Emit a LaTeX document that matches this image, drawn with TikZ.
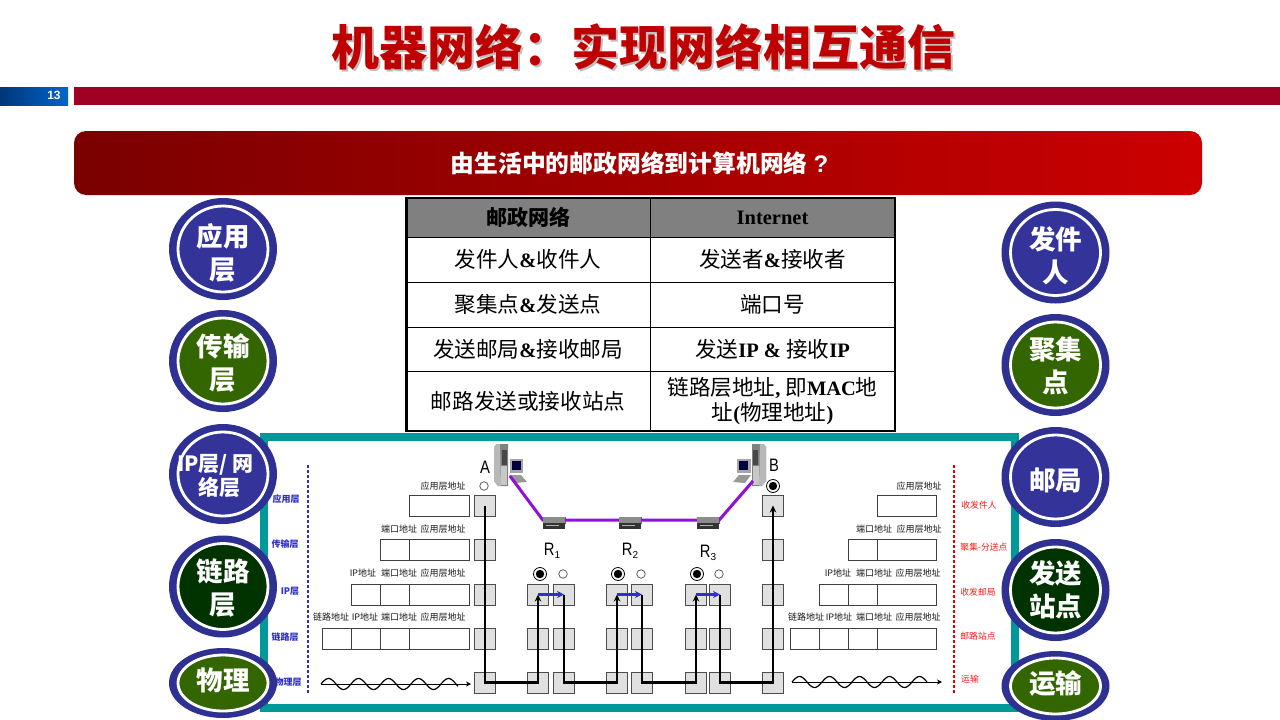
\documentclass[tikz,border=0pt]{standalone}
\usepackage{fontspec}
\usepackage{graphicx}
\usetikzlibrary{arrows.meta,shapes.geometric}
\setmainfont{Liberation Serif}
\newfontfamily\cjk{Noto Sans CJK SC}
\newfontfamily\lsans{Liberation Sans}
\newcommand\pxs[2]{\fontsize{#1}{#2}\selectfont}
\newcommand\lat[1]{{\rmfamily\bfseries\pxs{20.5}{25}#1}}
\newcommand\sbs[1]{{\pxs{10}{10}\raisebox{-3pt}{#1}}}
\newcommand\nar[1]{\scalebox{.82}[1]{#1}}
\definecolor{navy}{HTML}{2E3192}
\definecolor{blu}{HTML}{333399}
\definecolor{grn}{HTML}{336600}
\definecolor{dgrn}{HTML}{003300}
\definecolor{teal2}{HTML}{009999}
\definecolor{purp}{HTML}{9010D8}
\definecolor{stackc}{HTML}{E0E0E0}
\definecolor{lbl}{HTML}{1A1A1A}
\definecolor{hopblue}{HTML}{3030C8}
\definecolor{crimson}{HTML}{A00024}
\tikzset{
  cell/.style={draw=black,line width=1pt,inner sep=0pt,align=center,font=\cjk\pxs{21.6}{25.5}},
  hcell/.style={cell,fill=gray,font=\cjk\bfseries\pxs{21}{25}},
  coin/.style={ellipse,draw=white,line width=2.8pt,inner sep=0pt},
  cointxt/.style={text=white,align=center,inner sep=0pt,font=\cjk\bfseries\pxs{26.5}{33}},
  pkt/.style={draw=black!75,line width=0.8pt,inner sep=0pt,fill=white,minimum height=21pt},
  stackbox/.style={draw=black!70,line width=0.7pt,fill=stackc,inner sep=0pt,minimum width=21.5pt,minimum height=21pt},
  addr/.style={text=lbl,inner sep=0pt,font=\cjk\pxs{9}{9}},
  bluelab/.style={text=hopblue,inner sep=0pt,font=\cjk\bfseries\pxs{9}{9}},
  redlab/.style={text=red!90!white,inner sep=0pt,font=\cjk\pxs{8.8}{9}},
  letter/.style={text=black,inner sep=0pt,font=\lsans\pxs{18}{18}},
  route/.style={line width=2.2pt,black,-{Stealth[length=7pt,width=6.5pt]}},
  hop/.style={line width=2.2pt,hopblue,-{Stealth[length=7pt,width=7pt]}},
  hollow/.style={circle,draw=black!70,line width=0.7pt,fill=white,inner sep=0pt,minimum size=8.5pt},
  bull/.style={circle,draw=black,line width=0.8pt,fill=white,inner sep=0pt,minimum size=13pt},
  routerbox/.style={fill=black!45,draw=black!60,line width=0.4pt,inner sep=0pt,minimum width=22pt,minimum height=6pt},
  layerdots/.style={line width=2.8pt,dash pattern=on 2.6pt off 2.4pt},
}
\newcommand\coinnode[7]{%
  \fill[navy] (#2,#3) ellipse [x radius=54, y radius=#4];
  \node[coin,fill=#5,minimum width=90pt,minimum height=#6] (#1) at (#2,#3) {};
  \node[cointxt] (#1t) at (#2,#3+#7) {\csname cointext#1\endcsname};
}
\newcommand\computer{%
  \fill[black!50] (494,447)--(497,444)--(508,444)--(508,486)--(498,486)--(494,481)--cycle;
  \fill[black!28] (494,447)--(497,444)--(500,444)--(501,486)--(498,486)--(494,481)--cycle;
  \fill[black!22] (501,466) rectangle (507,485);
  \fill[black!72] (502,450) rectangle (507,465);
  \fill[black!35] (509.5,459) rectangle (523,473);
  \fill[black!75!blue] (512,461) rectangle (521,470);
  \fill[black!40] (509,475)--(521,475)--(527,482)--(515,483)--cycle;
}
\newcommand\routerfront[2]{%
  \fill[black!80] (#1-11,#2+3) rectangle (#1+11,#2+9);
  \fill[black!30] (#1-8,#2+4.5) rectangle (#1+5,#2+6);
}
\begin{document}
\begin{tikzpicture}[x=1pt,y=-1pt]
\useasboundingbox (0,0) rectangle (1280,720);
\fill[white] (0,0) rectangle (1280,720);
% title
\node[text=black!45,opacity=.55,inner sep=0pt,font=\cjk\bfseries\pxs{48}{48}] (titleshadow) at (645,49) {机器网络：实现网络相互通信};
\node[text=red!75!black,inner sep=0pt,font=\cjk\bfseries\pxs{48}{48}] (title) at (643.5,47) {机器网络：实现网络相互通信};
% header bars
\definecolor{barl}{HTML}{00367A}\definecolor{barr}{HTML}{0066CC}
\node[left color=barl,right color=barr,minimum width=68pt,minimum height=18pt,inner sep=0pt] (numbar) at (34,96) {};
\node[text=white,inner sep=0pt,font=\lsans\bfseries\pxs{12}{12}] (num) at (54,95) {13};
\node[fill=crimson,minimum width=1206pt,minimum height=18pt,inner sep=0pt] (redbar) at (677,96) {};
% banner
\node[left color=red!48!black,right color=red!80!black,rounded corners=12pt,minimum width=1128pt,minimum height=64pt,inner sep=0pt] (banner) at (638,163) {};
\node[text=white,inner sep=0pt,font=\cjk\bfseries\pxs{23.8}{24}] (bannert) at (639.5,163) {由生活中的邮政网络到计算机网络\hspace{6pt}{\lsans\bfseries\pxs{24}{24}?}};
% table
\node[hcell,minimum width=244pt,minimum height=39pt] (h1) at (528,217.5) {邮政网络};
\node[hcell,minimum width=245pt,minimum height=39pt] (h2) at (772.5,217.5) {\lat{Internet}};
\node[cell,minimum width=244pt,minimum height=45pt] (a1) at (528,259.5) {发件人\lat{\&}收件人};
\node[cell,minimum width=245pt,minimum height=45pt] (b1) at (772.5,259.5) {发送者\lat{\&}接收者};
\node[cell,minimum width=244pt,minimum height=45pt] (a2) at (528,304.5) {聚集点\lat{\&}发送点};
\node[cell,minimum width=245pt,minimum height=45pt] (b2) at (772.5,304.5) {端口号};
\node[cell,minimum width=244pt,minimum height=44pt] (a3) at (528,349) {发送邮局\lat{\&}接收邮局};
\node[cell,minimum width=245pt,minimum height=44pt] (b3) at (772.5,349) {发送\lat{IP \& }接收\lat{IP}};
\node[cell,minimum width=244pt,minimum height=60pt] (a4) at (528,401) {邮路发送或接收站点};
\node[cell,minimum width=245pt,minimum height=60pt] (b4) at (772.5,401) {链路层地址\lat{,} 即\lat{MAC}地\\址\lat{(}物理地址\lat{)}};
\draw[black,line width=2.6pt] (406.5,198) rectangle (895,431);
% teal frame
\draw[teal2,line width=8pt] (264,437) rectangle (1015,708);
% layer dotted lines
\coordinate (bl1) at (308,465); \coordinate (bl2) at (308,694);
\coordinate (rl1) at (954,465); \coordinate (rl2) at (954,694);
\draw[layerdots,hopblue] (bl1) -- (bl2);
\draw[layerdots,red!90!black] (rl1) -- (rl2);
% blue layer labels
\node[bluelab] (lb1) at (286,499) {应用层};
\node[bluelab] (lb2) at (285,544) {传输层};
\node[bluelab] (lb3) at (290,591) {IP层};
\node[bluelab] (lb4) at (285,637) {链路层};
\node[bluelab] (lb5) at (288,682) {物理层};
% red labels
\node[redlab] (lr1) at (979,505) {收发件人};
\node[redlab] (lr2) at (984,547) {聚集-分送点};
\node[redlab] (lr3) at (978,592) {收发邮局};
\node[redlab] (lr4) at (978,636) {邮路站点};
\node[redlab] (lr5) at (970,679) {运输};
% packets
\foreach \nm/\xa/\xb/\y in {pa/409/469/505.5,
  pb2/380/409/549.5,pb1/409/469/549.5,
  pc3/351/380/594.5,pc2/380/409/594.5,pc1/409/469/594.5,
  pd4/322/351/638.5,pd3/351/380/638.5,pd2/380/409/638.5,pd1/409/469/638.5,
  qa/877/936/505.5,
  qb2/848/877/549.5,qb1/877/936/549.5,
  qc3/819/848/594.5,qc2/848/877/594.5,qc1/877/936/594.5,
  qd4/790/819/638.5,qd3/819/848/638.5,qd2/848/877/638.5,qd1/877/936/638.5}{
  \pgfmathsetmacro\w{\xb-\xa}
  \pgfmathsetmacro\c{(\xa+\xb)/2}
  \node[pkt,minimum width=\w pt] (\nm) at (\c,\y) {};
}
\foreach \nm/\x/\y/\t in {
  la1/443/486/应用层地址,
  la2/399/529/端口地址,la3/443/529/应用层地址,
  la4/363/573/IP地址,la5/399/573/端口地址,la6/443/573/应用层地址,
  la7/331/617/链路地址,la8/365/617/IP地址,la9/399/617/端口地址,la10/443/617/应用层地址,
  ra1/919/486/应用层地址,
  ra2/874/529/端口地址,ra3/919/529/应用层地址,
  ra4/838/573/IP地址,ra5/874/573/端口地址,ra6/918/573/应用层地址,
  ra7/806/617/链路地址,ra8/839/617/IP地址,ra9/874/617/端口地址,ra10/918/617/应用层地址}{
  \node[addr] (\nm) at (\x,\y) {\t};
}
% stacks
\foreach \s/\x in {A/485,B/773}{
  \foreach \r/\y in {1/505.5,2/549.5,3/594.5,4/638.5,5/682.5}{
    \node[stackbox] (\s\r) at (\x,\y) {};
  }
}
\foreach \s/\x in {Ra/538,Rb/564,Sa/617,Sb/642,Ta/696,Tb/720}{
  \foreach \r/\y in {3/594.5,4/638.5,5/682.5}{
    \node[stackbox] (\s\r) at (\x,\y) {};
  }
}
% hosts
\computer
\begin{scope}[shift={(1260,0)},xscale=-1]
\computer
\end{scope}
\coordinate (hostA) at (510,476);
\coordinate (hostB) at (753,481);
% routers and purple links
\node[routerbox] (rt1) at (554,520) {};
\node[routerbox] (rt2) at (630,520) {};
\node[routerbox] (rt3) at (708,520) {};
\draw[purp,line width=3pt] (hostA) -- (rt1.west) -- (rt2.center) -- (rt3.east) -- (hostB);
\foreach \n in {rt1,rt2,rt3}{\fill[black!45] (\n.north west) rectangle (\n.south east);}
\routerfront{554}{520}
\routerfront{630}{520}
\routerfront{708}{520}
% letters
\node[letter] (la) at (485,467) {\nar{A}};
\node[letter] (lbb) at (774,465) {\nar{B}};
\node[letter] (lr) at (552,551) {\nar{R}\sbs{1}};
\node[letter] (ls) at (630,551) {\nar{R}\sbs{2}};
\node[letter] (lt) at (708,553) {\nar{R}\sbs{3}};
% state circles
\node[hollow] (cA) at (484,486) {};
\node[bull] (cB) at (773,486) {};
\node[bull] (c1) at (540,574) {};
\node[hollow] (c2) at (563,574) {};
\node[bull] (c3) at (618,574) {};
\node[hollow] (c4) at (641,574) {};
\node[bull] (c5) at (697,574) {};
\node[hollow] (c6) at (719,574) {};
\foreach \n in {cB,c1,c3,c5}{\fill[black] (\n.center) circle (4.2);}
% routes
\draw[route] (A1.center) -- (A5.center) -- (Ra5.center) -- (Ra3.center);
\draw[route] (Rb3.center) -- (Rb5.center) -- (Sa5.center) -- (Sa3.center);
\draw[route] (Sb3.center) -- (Sb5.center) -- (Ta5.center) -- (Ta3.center);
\draw[route] (Tb3.center) -- (Tb5.center) -- (B5.center) -- (B1.center);
\draw[hop] (Ra3.center) -- (Rb3.center);
\draw[hop] (Sa3.center) -- (Sb3.center);
\draw[hop] (Ta3.center) -- (Tb3.center);
% physical waves
\coordinate (wl1) at (321,684); \coordinate (wl2) at (471,684);
\coordinate (wr1) at (792,682); \coordinate (wr2) at (942,682);
\draw[black,line width=0.8pt,-{Stealth[length=5pt,width=5pt]}] (wl1) -- (wl2);
\draw[black,line width=0.8pt,-{Stealth[length=5pt,width=5pt]}] (wr1) -- (wr2);
\draw[black,line width=1.2pt,domain=321:458,samples=120,smooth] plot (\x,{684-5.5*sin((\x-321)*12)});
\draw[black,line width=1.2pt,domain=792:927,samples=120,smooth] plot (\x,{682-5.5*sin((\x-792)*12)});
% side circles
\def\cointextcL{应用\\层}
\def\cointextcM{传输\\层}
\def\cointextcN{\pxs{21}{24}IP层/ 网\hspace*{15pt}\\[-9pt]\pxs{21}{24}络层\hspace*{8pt}}
\def\cointextcO{链路\\层}
\def\cointextcP{物理}
\def\cointextdL{发件\\人}
\def\cointextdM{聚集\\点}
\def\cointextdN{邮局}
\def\cointextdO{发送\\站点}
\def\cointextdP{运输}
\coinnode{cL}{223}{249}{51}{blu}{86pt}{4}
\coinnode{cM}{223}{361}{51}{grn}{86pt}{2}
\coinnode{cN}{223}{474}{50}{blu}{84pt}{2}
\coinnode{cO}{223}{586.5}{51}{dgrn}{86pt}{2}
\coinnode{cP}{223}{683}{35}{grn}{56pt}{-3}
\coinnode{dL}{1055.5}{252.5}{51}{blu}{86pt}{3}
\coinnode{dM}{1055.5}{365}{51}{grn}{86pt}{1}
\coinnode{dN}{1055.5}{477}{50}{blu}{84pt}{3}
\coinnode{dO}{1055.5}{590}{51}{dgrn}{86pt}{0}
\coinnode{dP}{1055.5}{686}{35}{grn}{56pt}{-2}
\end{tikzpicture}
\end{document}
